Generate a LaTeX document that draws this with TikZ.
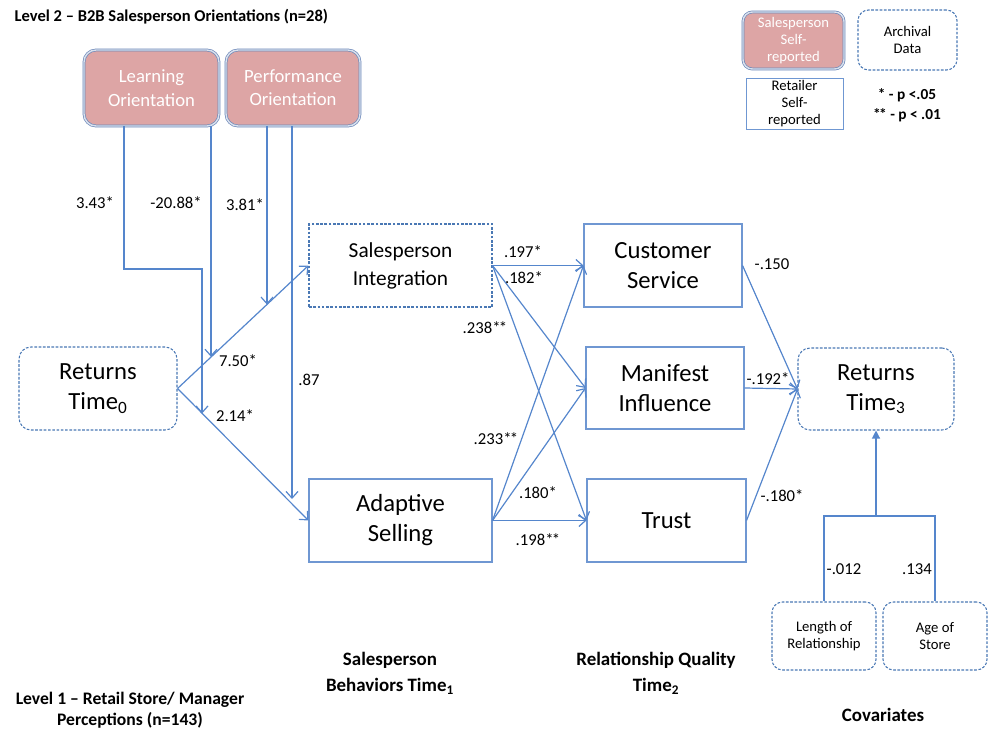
\documentclass[tikz,border=0pt]{standalone}
\usepackage{fontspec}
\setmainfont{Carlito}
\usetikzlibrary{arrows.meta,calc}
\definecolor{ln}{HTML}{5586CC}
\definecolor{bd}{HTML}{6F97D2}
\definecolor{dsh}{HTML}{4A78B4}
\definecolor{pk}{HTML}{DDA5A5}
\definecolor{dbl}{HTML}{6A86B8}
\newcommand{\dstar}{*\kern-1.2pt*}
\begin{document}
\begin{tikzpicture}[x=0.75pt,y=-0.75pt,
  sz/.style 2 args={minimum width=#1*0.75pt,minimum height=#2*0.75pt,inner sep=0pt,align=center},
  solidbox/.style={draw=bd,line width=0.8pt},
  dashbox/.style={draw=dsh,line width=0.8pt,dash pattern=on 2pt off 1.2pt},
  pinkbox/.style={fill=pk,draw=dbl,double=white!75!dbl,double distance=1.1pt,line width=0.5pt,rounded corners=9pt,text=white},
  big/.style={font=\fontsize{18.5}{22.5}\selectfont},
  mid/.style={font=\fontsize{16}{21}\selectfont},
  pinktxt/.style={font=\fontsize{14}{17.5}\selectfont},
  lab/.style={font=\fontsize{12.5}{15}\selectfont},
  small/.style={font=\fontsize{11}{13}\selectfont},
  boldlab/.style={font=\bfseries\fontsize{14.2}{19.5}\selectfont,align=center},
  conn/.style={draw=ln,line width=0.9pt,-{Straight Barb[length=5pt,width=9pt]}},
  plain/.style={draw=ln,line width=0.9pt}
]
\useasboundingbox (0,0) rectangle (989,731);

% top title
\node[anchor=west,font=\bfseries\fontsize{12.4}{14}\selectfont] (title) at (10,17) {Level 2 -- B2B Salesperson Orientations (n=28)};

% level 2 constructs
\node[pinkbox,pinktxt,sz={135}{76}] (LO) at (151.5,88) {Learning\\Orientation};
\node[pinkbox,pinktxt,sz={134}{76}] (PO) at (293,88) {Performance\\Orientation};

% legend
\node[pinkbox,small,sz={101}{57},rounded corners=7pt] (SSR) at (793.5,40.5) {Salesperson\\Self-\\reported};
\node[dashbox,small,sz={99}{60},rounded corners=8pt] (AD) at (907.5,40) {Archival\\Data};
\node[draw=bd,line width=0.6pt,small,sz={97}{51}] (RSR) at (794.5,103.5) {Retailer\\Self-\\reported};
\node[font=\bfseries\fontsize{11.5}{15}\selectfont,align=center] (pv) at (907,105) {* - p <.05\\\dstar{} - p < .01};

% main constructs
\node[dashbox,big,sz={158}{83},rounded corners=9pt] (R0) at (98,388.5) {Returns\\Time\textsubscript{0}};
\node[dashbox,mid,sz={183}{83}] (SI) at (400.5,265.5) {Salesperson\\Integration};
\node[solidbox,big,sz={183}{83}] (AS) at (400.5,520.5) {Adaptive\\Selling};
\node[solidbox,big,sz={158}{83}] (CS) at (663,265.5) {Customer\\Service};
\node[solidbox,big,sz={158}{82}] (MI) at (665,388) {Manifest\\Influence};
\node[solidbox,big,sz={159}{83}] (TR) at (666.5,520.5) {Trust};
\node[dashbox,big,sz={156}{82},rounded corners=9pt] (R3) at (876,389) {Returns\\Time\textsubscript{3}};
\node[dashbox,small,sz={104}{68},rounded corners=8pt] (LR) at (824,636) {Length of\\Relationship};
\node[dashbox,small,sz={104}{68},rounded corners=8pt] (AG) at (935,636) {Age of\\Store};

% helper coordinates
\coordinate (xa) at (124,0);
\coordinate (xb) at (211,0);
\coordinate (xc) at (267,0);
\coordinate (xd) at (292,0);
\coordinate (ka) at (124,269);
\coordinate (kb) at (202,269);
\coordinate (ha) at (202,413.5);
\coordinate (hb) at (211,356.8);
\coordinate (hc) at (267,304.6);
\coordinate (hd) at (292,499);
\coordinate (cj) at (876,516);

% moderator lines
\draw[conn] (LO.south -| xa) -- (ka) -- (kb) -- (ha);
\draw[conn] (LO.south -| xb) -- (hb);
\draw[conn] (PO.south -| xc) -- (hc);
\draw[conn] (PO.south -| xd) -- (hd);

% paths
\draw[conn] (R0.east) -- (SI.west);
\draw[conn] (R0.east) -- (AS.west);
\draw[conn] (SI.east) -- (CS.west);
\draw[conn] (SI.east) -- (MI.west);
\draw[conn] (SI.east) -- (TR.west);
\draw[conn] (AS.east) -- (CS.west);
\draw[conn] (AS.east) -- (MI.west);
\draw[conn] (AS.east) -- (TR.west);
\draw[conn] (CS.east) -- (R3.west);
\draw[conn] (MI.east) -- (R3.west);
\draw[conn] (TR.east) -- (R3.west);

% covariates
\draw[plain] (LR.north) -- (LR.north |- cj) -- (AG.north |- cj) -- (AG.north);
\draw[plain,-{Triangle[length=6pt,width=6pt]}] (cj) -- (R3.south);

% coefficient labels
\node[lab] (l1) at (95,203) {3.43*};
\node[lab] (l2) at (176,203) {-20.88*};
\node[lab] (l3) at (245,205) {3.81*};
\node[lab] (l4) at (238,361) {7.50*};
\node[lab] (l5) at (235,416) {2.14*};
\node[lab] (l6) at (309,380) {.87};
\node[lab] (l7) at (523,252) {.197*};
\node[lab] (l8) at (524,278) {.182*};
\node[lab] (l9) at (485,328) {.238\dstar};
\node[lab] (l10) at (496,439) {.233\dstar};
\node[lab] (l11) at (538,493) {.180*};
\node[lab] (l12) at (538,540) {.198\dstar};
\node[lab] (l13) at (772,264) {-.150};
\node[lab] (l14) at (768,379) {-.192*};
\node[lab] (l15) at (782,496) {-.180*};
\node[lab] (l16) at (844,569) {-.012};
\node[lab] (l17) at (917,569) {.134};

% bottom labels
\node[boldlab] (sb) at (390,673) {Salesperson\\Behaviors Time\textsubscript{1}};
\node[boldlab] (rq) at (656,673) {Relationship Quality\\Time\textsubscript{2}};
\node[font=\bfseries\fontsize{13.2}{15.5}\selectfont,align=center] (l1lab) at (130,710) {Level 1 -- Retail Store/ Manager\\Perceptions (n=143)};
\node[boldlab] (cov) at (883,715) {Covariates};
\end{tikzpicture}
\end{document}
